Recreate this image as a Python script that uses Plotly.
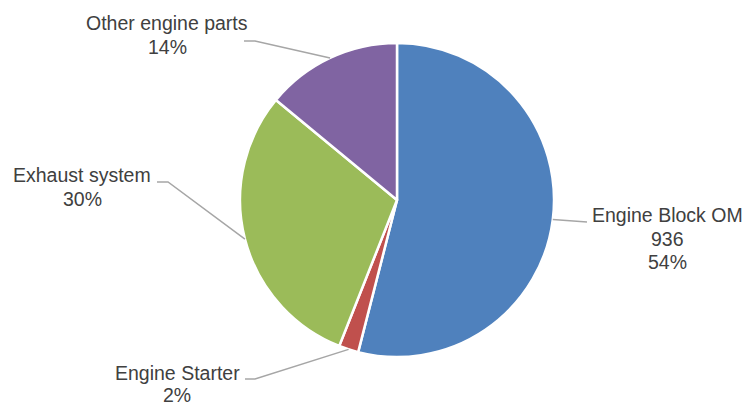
import math
import plotly.graph_objects as go

# ---- data ----
categories = ["Engine Block OM", "Engine Starter", "Exhaust system", "Other engine parts"]
values = [936, 35, 520, 243]
colors = ["#4F81BD", "#C0504D", "#9BBB59", "#8064A2"]

# ---- layout constants (pixels) ----
W, H = 746, 408
CX, CY, R = 397, 200, 157
LINE_H = 23.5

# centre of first label line and leader-line elbow points (layout)
label_pos = {
    "Engine Block OM": (667, 215),
    "Engine Starter": (177, 373),
    "Exhaust system": (82, 175),
    "Other engine parts": (167, 23),
}
elbows = {
    "Engine Block OM": [(587, 222)],
    "Engine Starter": [(245, 379), (255, 379)],
    "Exhaust system": [(157, 182), (168, 182)],
    "Other engine parts": [(244, 41), (255, 41)],
}

def px(x, y):
    return x / W, 1 - y / H

total = sum(values)
fig = go.Figure(go.Pie(
    labels=categories, values=values, sort=False, direction="clockwise", rotation=0,
    marker=dict(colors=colors, line=dict(color="white", width=2.5)),
    textinfo="none", showlegend=False,
    domain=dict(x=[(CX - R) / W, (CX + R) / W], y=[1 - (CY + R) / H, 1 - (CY - R) / H]),
))

shapes, annotations = [], []
cum = 0
for cat, v in zip(categories, values):
    mid = (cum + v / 2) / total * 2 * math.pi
    cum += v
    ex = CX + R * math.sin(mid)
    ey = CY - R * math.cos(mid)
    pts = elbows[cat] + [(ex, ey)]
    path = "M " + " L ".join(f"{px(x, y)[0]:.5f},{px(x, y)[1]:.5f}" for x, y in pts)
    shapes.append(dict(type="path", xref="paper", yref="paper", path=path,
                       line=dict(color="#A6A6A6", width=1.5)))
    pct = round(v / total * 100)
    lines = [cat, str(v), f"{pct}%"] if cat == "Engine Block OM" else [cat, f"{pct}%"]
    bx, by = label_pos[cat]
    step = 22 if cat == "Engine Starter" else LINE_H
    for i, t in enumerate(lines):
        lx, ly = px(bx, by + i * step)
        annotations.append(dict(x=lx, y=ly, xref="paper", yref="paper", text=t,
                                showarrow=False, xanchor="center", yanchor="middle",
                                font=dict(family="Liberation Sans, Arial, sans-serif",
                                          size=19.5, color="#404040")))

fig.update_layout(width=W, height=H, margin=dict(l=0, r=0, t=0, b=0),
                  paper_bgcolor="white", plot_bgcolor="white",
                  shapes=shapes, annotations=annotations)
fig.write_html("out.html")
